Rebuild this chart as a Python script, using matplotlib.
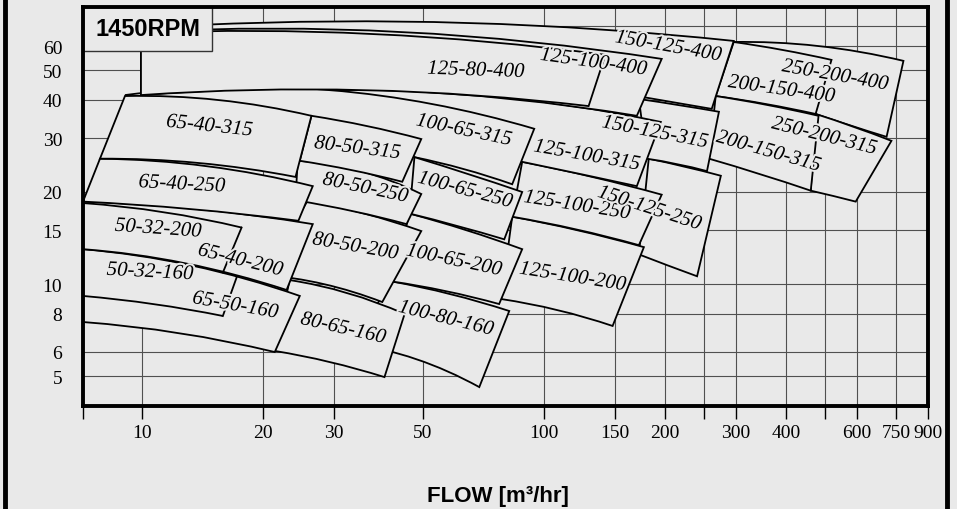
import numpy as np
import matplotlib.pyplot as plt
from matplotlib.path import Path
from matplotlib.patches import PathPatch, Rectangle
from matplotlib.lines import Line2D
from matplotlib.ticker import NullFormatter, NullLocator
import matplotlib.patheffects as pe

BG = '#e9e9e9'

# -----------------------------------------------------
# Axis data
# -----------------------------------------------------
head_ticks = [5, 6, 8, 10, 15, 20, 30, 40, 50, 60]
head_grid = [5, 6, 8, 10, 15, 20, 30, 40, 50, 60, 70]
flow_ticks = [10, 20, 30, 50, 100, 150, 200, 300, 400, 600, 750, 900]
flow_extra_ticks = [7.14, 250, 500]
flow_grid = [10, 20, 30, 50, 100, 150, 200, 250, 300, 400, 500, 600, 750]

# -----------------------------------------------------
# Pump bands (drawn in this order), points are (flow m3/h, head m)
# upper edge / lower edge given as left end, middle, right end
# -----------------------------------------------------
band_names = ['250-200-400', '250-200-315', '200-150-400', '200-150-315',
              '150-125-400', '150-125-250', '150-125-315', '125-100-200',
              '125-100-250', '125-100-315', '100-65-315', '125-100-400',
              '125-80-400', '100-80-160', '100-65-200', '100-65-250',
              '80-65-160', '80-50-200', '80-50-250', '80-50-315',
              '65-50-160', '65-40-200', '65-40-250', '65-40-315']

band_top = [
    [(293, 61.9), (479, 60.1), (782, 53.7)],
    [(473, 36.0), (588, 32.7), (730, 29.4)],
    [(296, 61.9), (392, 58.3), (518, 54.1)],
    [(267, 41.2), (360, 38.5), (481, 35.5)],
    [(13.9, 70.4), (64.4, 71.5), (296, 62.4)],
    [(182, 25.7), (224, 24.2), (275, 22.6)],
    [(172, 40.3), (216, 38.5), (272, 36.6)],
    [(83.3, 16.6), (121, 15.0), (177, 13.2)],
    [(88.2, 25.1), (132, 22.4), (196, 19.6)],
    [(24.7, 42.8), (69.4, 41.5), (195, 33.9)],
    [(9.08, 41.5), (29.3, 43.1), (94.5, 32.2)],
    [(9.95, 66.8), (44.2, 66.8), (196, 54.5)],
    [(9.95, 66.3), (37.4, 65.8), (142, 56.2)],
    [(41.7, 10.2), (58.5, 9.27), (81.9, 8.16)],
    [(46.3, 17.0), (64.1, 15.0), (88.2, 13.0)],
    [(47.6, 26.0), (64.8, 22.9), (88.2, 20.0)],
    [(23.3, 10.3), (32.5, 9.34), (45.0, 7.98)],
    [(25.8, 18.7), (35.8, 17.0), (49.5, 14.9)],
    [(24.4, 25.3), (35.0, 23.4), (49.5, 19.7)],
    [(26.4, 35.5), (36.2, 32.9), (49.5, 29.8)],
    [(7.14, 13.0), (13.3, 11.5), (24.7, 9.14)],
    [(7.14, 18.6), (13.8, 17.6), (26.6, 15.7)],
    [(7.87, 25.7), (14.5, 24.3), (26.6, 20.9)],
    [(9.08, 41.2), (15.5, 40.0), (26.4, 35.5)],
]

band_bottom = [
    [(473, 36.0), (581, 32.9), (710, 30.3)],
    [(460, 20.2), (524, 19.4), (595, 18.6)],
    [(267, 41.2), (356, 38.8), (473, 36.0)],
    [(257, 25.7), (344, 22.9), (460, 20.2)],
    [(13.9, 65.3), (60.5, 50.9), (261, 37.4)],
    [(172, 12.5), (203, 11.5), (240, 10.6)],
    [(180, 25.7), (214, 24.7), (254, 23.4)],
    [(78.2, 8.93), (108, 8.22), (148, 7.29)],
    [(83.3, 16.6), (120, 15.1), (172, 13.4)],
    [(88.2, 25.1), (123, 22.9), (170, 20.9)],
    [(47.6, 26.0), (63.0, 23.8), (83.3, 21.2)],
    [(9.95, 41.5), (41.0, 43.1), (170, 35.5)],
    [(9.95, 41.5), (35.8, 43.1), (129, 38.2)],
    [(33.4, 6.36), (48.1, 5.68), (69.0, 4.60)],
    [(41.7, 10.2), (56.8, 9.49), (77.3, 8.60)],
    [(46.3, 17.0), (60.8, 15.5), (79.6, 14.0)],
    [(21.4, 6.04), (29.3, 5.56), (40.1, 4.96)],
    [(20.2, 10.7), (28.3, 10.0), (39.6, 8.73)],
    [(24.1, 18.8), (33.6, 17.3), (45.5, 15.7)],
    [(24.7, 25.3), (33.2, 23.6), (44.4, 21.6)],
    [(7.14, 7.51), (12.4, 6.91), (21.4, 5.99)],
    [(7.14, 13.0), (12.8, 11.7), (22.9, 9.56)],
    [(7.14, 18.6), (13.2, 17.6), (24.5, 16.1)],
    [(7.87, 25.7), (13.8, 24.9), (24.1, 22.4)],
]

# small pumps sharing a band: their own curve and the split line
small_curves = [
    [(7.14, 18.4), (11.3, 17.2), (17.7, 15.3)],   # 50-32-200
    [(7.14, 9.14), (10.7, 8.60), (15.9, 7.86)],   # 50-32-160
]
split_lines = [
    [(17.7, 15.3), (15.9, 10.9)],
    [(17.2, 10.5), (15.9, 7.86)],
]

# labels: text, flow, head, angle
label_text = ['125-80-400', '125-100-400', '150-125-400', '250-200-400', '200-150-400',
              '65-40-315', '80-50-315', '100-65-315', '150-125-315', '125-100-315',
              '200-150-315', '250-200-315', '65-40-250', '80-50-250', '100-65-250',
              '125-100-250', '150-125-250', '50-32-200', '65-40-200', '80-50-200',
              '100-65-200', '125-100-200', '50-32-160', '65-50-160', '80-65-160',
              '100-80-160']
label_flow = [67.8, 133, 204, 530, 390,
              14.75, 34.4, 63.3, 189, 128,
              362, 498, 12.6, 36.0, 63.7,
              121, 183, 11.0, 17.6, 34.0,
              59.8, 118, 10.5, 17.1, 31.7,
              57.1]
label_head = [49.8, 52.9, 59.6, 47.9, 43.1,
              32.7, 27.7, 31.7, 31.2, 26.2,
              27.0, 30.3, 21.1, 20.5, 20.2,
              18.0, 17.6, 15.1, 11.9, 13.2,
              11.9, 10.5, 10.9, 8.47, 7.12,
              7.68]
label_angle = [-2, -8, -10, -10, -8,
               -6, -7, -12, -11, -10,
               -16, -14, -3, -12, -15,
               -9, -18, -4, -14, -10,
               -12, -9, -3, -10, -13,
               -14]


# -----------------------------------------------------
# Helpers
# -----------------------------------------------------
def ctrl_point(p0, pm, p1):
    # quadratic bezier control point so the curve runs through pm (log-log space)
    l0, lm, l1 = np.log10(p0), np.log10(pm), np.log10(p1)
    return tuple(10 ** (2 * lm - (l0 + l1) / 2))


def band_path(top, bot):
    t0, tm, t1 = top
    b0, bm, b1 = bot
    verts = [t0, ctrl_point(t0, tm, t1), t1, b1, ctrl_point(b1, bm, b0), b0, t0]
    codes = [Path.MOVETO, Path.CURVE3, Path.CURVE3, Path.LINETO,
             Path.CURVE3, Path.CURVE3, Path.CLOSEPOLY]
    return Path(verts, codes)


def curve_path(pts):
    p0, pm, p1 = pts
    return Path([p0, ctrl_point(p0, pm, p1), p1],
                [Path.MOVETO, Path.CURVE3, Path.CURVE3])


# -----------------------------------------------------
# Figure
# -----------------------------------------------------
fig = plt.figure(figsize=(9.57, 5.10), dpi=100, facecolor=BG)
ax = fig.add_axes([0.0867, 0.202, 0.883, 0.7824])
ax.set_facecolor(BG)
ax.set_xscale('log')
ax.set_yscale('log')
ax.set_xlim(7.14, 892)
ax.set_ylim(3.99, 80.6)

for h in head_grid:
    ax.axhline(h, color='#505050', lw=0.8, zorder=0.5)
for q in flow_grid:
    ax.axvline(q, color='#505050', lw=0.8, zorder=0.5)

for top, bot in zip(band_top, band_bottom):
    ax.add_patch(PathPatch(band_path(top, bot), facecolor=BG, edgecolor='black',
                           lw=1.3, zorder=2))

for pts in small_curves:
    ax.add_patch(PathPatch(curve_path(pts), fill=False, edgecolor='black', lw=1.3, zorder=2))
for seg in split_lines:
    ax.plot([p[0] for p in seg], [p[1] for p in seg], color='black', lw=1.3, zorder=2)

halo = [pe.withStroke(linewidth=3, foreground=BG)]
for txt, q, h, ang in zip(label_text, label_flow, label_head, label_angle):
    ax.text(q, h, txt, rotation=ang, rotation_mode='anchor', ha='center', va='center',
            family='Liberation Serif', style='italic', fontsize=15, zorder=5,
            path_effects=halo)

# speed box in the corner
ax.add_patch(Rectangle((0, 0.89), 0.153, 0.11, transform=ax.transAxes,
                       facecolor=BG, edgecolor='#333333', lw=1, zorder=6))
ax.text(0.0765, 0.945, '1450RPM', transform=ax.transAxes, ha='center', va='center',
        family='Liberation Sans', fontweight='bold', fontsize=17, zorder=7)

# ticks
ax.set_xticks(flow_ticks, [str(v) for v in flow_ticks])
ax.set_xticks(flow_extra_ticks, minor=True)
ax.xaxis.set_minor_formatter(NullFormatter())
ax.set_yticks(head_ticks, [str(v) for v in head_ticks])
ax.yaxis.set_minor_locator(NullLocator())
ax.tick_params(axis='x', which='both', direction='out', length=9, width=1, pad=4)
ax.tick_params(axis='y', which='both', length=0, pad=15)
for lab in ax.get_xticklabels() + ax.get_yticklabels():
    lab.set_family('Liberation Serif')
    lab.set_fontsize(14)

for sp in ax.spines.values():
    sp.set_linewidth(2.8)
    sp.set_color('black')
    sp.set_zorder(8)

fig.text(0.52, 0.027, 'FLOW [m³/hr]', ha='center', va='center',
         family='Liberation Sans', fontweight='bold', fontsize=16)

# outer frame lines
for xf in [5 / 957, 947 / 957]:
    fig.add_artist(Line2D([xf, xf], [0, 1], transform=fig.transFigure, color='black', lw=3.5))

fig.savefig('out.png', dpi=100, facecolor=BG)
